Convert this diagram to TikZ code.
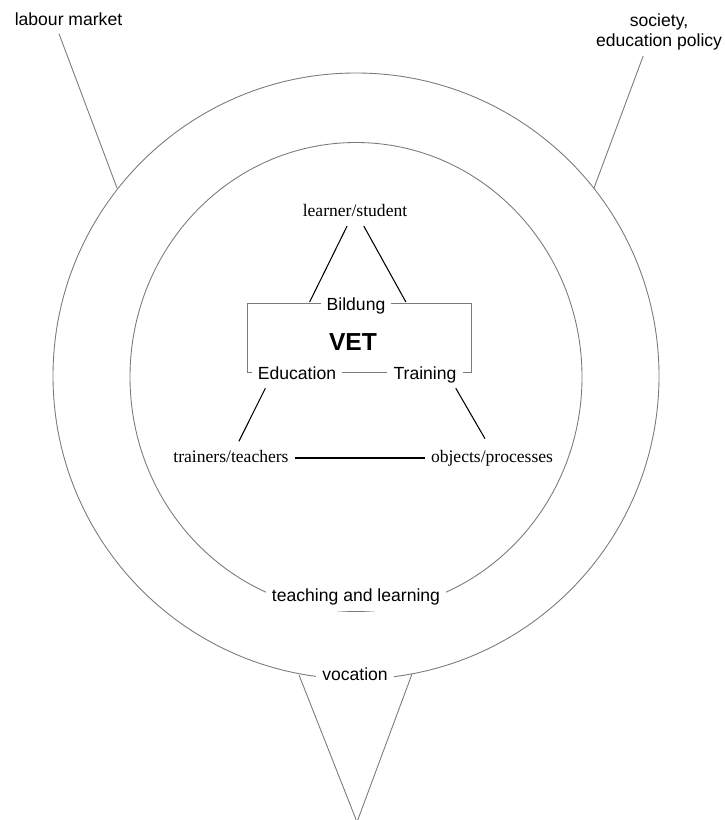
\documentclass[tikz,border=0pt]{standalone}
\usepackage{fontspec}
\setmainfont{Liberation Sans}
\newfontfamily\serifrm{Liberation Serif}
\usepackage{tikz}
\usepackage{xcolor}
\definecolor{ringgray}{gray}{0.48}

\begin{document}
\begin{tikzpicture}[x=0.02cm, y=-0.02cm,
    ring/.style={ringgray, line width=0.5pt},
    tie/.style={black, line width=0.6pt},
    onring/.style={fill=white, inner xsep=3.5pt, inner ysep=3pt, text height=7.2pt, text depth=2pt, font=\fontsize{10}{12}\selectfont},
    actor/.style={inner sep=3.3pt, text height=6.8pt, text depth=2.2pt, font=\serifrm\fontsize{10}{12}\selectfont},
    sphere/.style={inner sep=3.3pt, align=center, font=\fontsize{10}{11}\selectfont}]
    \useasboundingbox (0,0) rectangle (724,820);
    % rings
    \draw[ring] (356,376) circle [radius=303];
    \draw[ring] (356,377) ellipse [x radius=226, y radius=234.5];
    \node[onring] (vocation) at (355,676) {vocation};
    \node[onring] (teaching) at (356,597.4) {teaching and learning};
    % spheres outside
    \node[sphere] (labour) at (68.5,19.4) {labour market};
    \node[sphere] (society) at (659,32) {society,\\education policy};
    \coordinate (labourfoot) at (117,188);
    \coordinate (societyfoot) at (594,188);
    \coordinate (vocleft) at (299,675);
    \coordinate (vocright) at (412,674);
    \coordinate (apex) at (357,822);
    \draw[ring] ([xshift=-5.4pt,yshift=-1pt]labour.south) -- (labourfoot);
    \draw[ring] ([xshift=-9pt]society.south) -- (societyfoot);
    \draw[ring] (vocleft) -- (apex) -- (vocright);
    % VET bracket
    \draw[ring] (247,303) rectangle (471,372.5);
    \node[onring] (bildung) at (356,305.5) {Bildung};
    \node[onring] (education) at (297,374.5) {Education};
    \node[onring] (training) at (425,374.5) {Training};
    \node[font=\fontsize{14}{16}\selectfont\bfseries] (vet) at (353,342.5) {VET};
    % triangle
    \node[actor] (learner) at (355,212) {learner/student};
    \node[actor] (trainers) at (231,458) {trainers/teachers};
    \node[actor] (objects) at (492,458) {objects/processes};
    \draw[tie] ([xshift=-4.5pt]learner.south) -- ([xshift=-6pt,yshift=2pt]bildung.west);
    \draw[tie] ([xshift=5pt]learner.south) -- ([xshift=8pt,yshift=2pt]bildung.east);
    \draw[tie] ([xshift=-18pt]education.south) -- ([xshift=4.5pt,yshift=1.5pt]trainers.north);
    \draw[tie] ([xshift=17.5pt]training.south) -- ([xshift=-4pt,yshift=3pt]objects.north);
    \draw[tie] (trainers) -- (objects);
\end{tikzpicture}
\end{document}
